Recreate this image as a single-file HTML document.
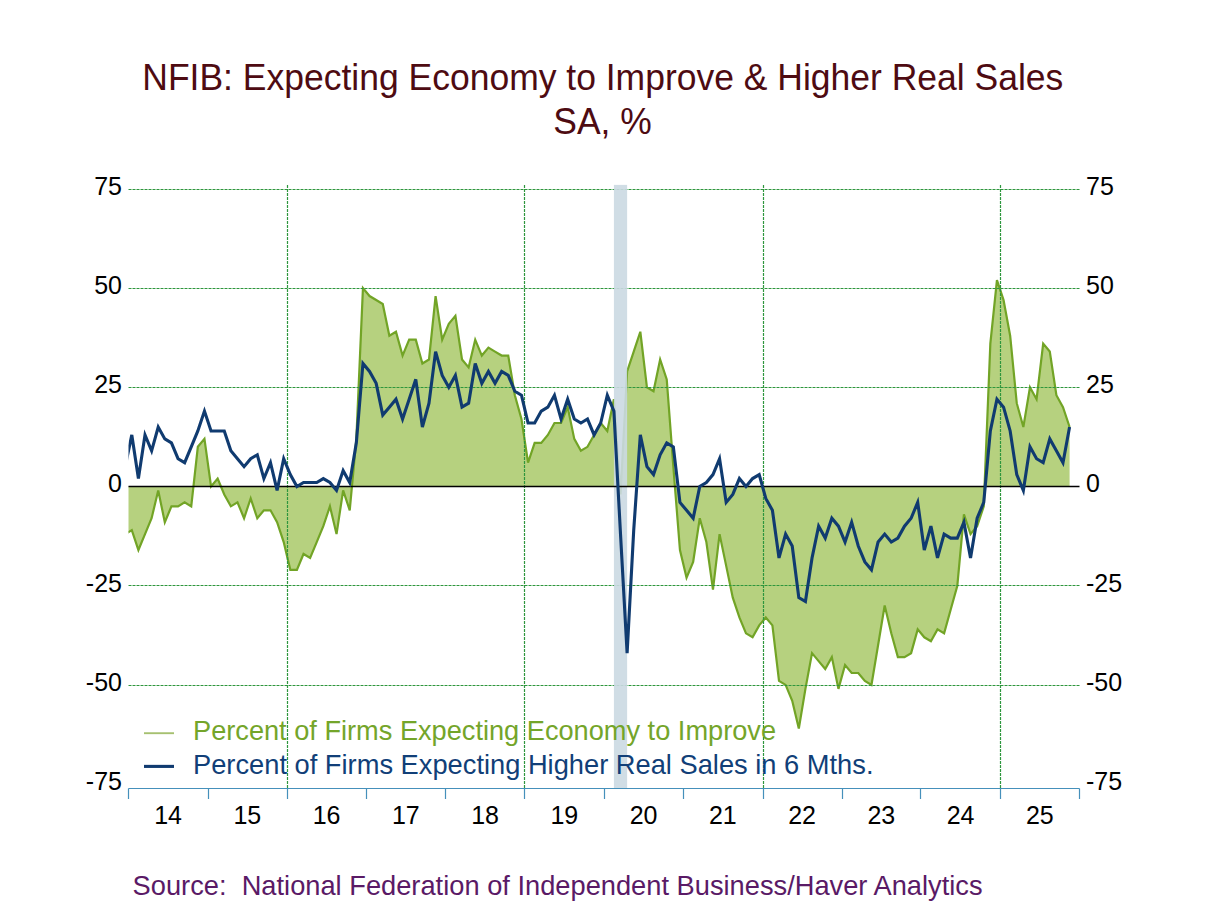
<!DOCTYPE html>
<html><head><meta charset="utf-8"><style>
html,body{margin:0;padding:0;background:#fff;}
svg{display:block;}
text{font-family:"Liberation Sans",sans-serif;}
</style></head><body>
<svg width="1208" height="906" viewBox="0 0 1208 906">
<rect x="0" y="0" width="1208" height="906" fill="#ffffff"/>
<g fill="#4e0b12" font-size="37.5">
<text x="142.3" y="89.7" textLength="921" lengthAdjust="spacingAndGlyphs">NFIB: Expecting Economy to Improve &amp; Higher Real Sales</text>
<text x="553.3" y="133.7" textLength="98.5" lengthAdjust="spacingAndGlyphs">SA, %</text>
</g>
<defs><clipPath id="pc"><rect x="128.5" y="150" width="951.0" height="640"/></clipPath></defs>
<g clip-path="url(#pc)">
<path d="M125.20,534.12 L131.80,530.15 L138.41,549.99 L145.01,534.12 L151.61,518.24 L158.22,490.47 L164.82,522.21 L171.43,506.34 L178.03,506.34 L184.64,502.37 L191.24,506.34 L197.84,446.82 L204.45,438.88 L211.05,486.50 L217.66,478.56 L224.26,494.44 L230.86,506.34 L237.47,502.37 L244.07,518.24 L250.68,498.40 L257.28,518.24 L263.89,510.31 L270.49,510.31 L277.09,522.21 L283.70,542.05 L290.30,569.83 L296.91,569.83 L303.51,553.96 L310.11,557.92 L316.72,542.05 L323.32,526.18 L329.93,506.34 L336.53,534.12 L343.14,490.47 L349.74,510.31 L356.34,438.88 L362.95,288.10 L369.55,296.04 L376.16,300.00 L382.76,303.97 L389.36,335.72 L395.97,331.75 L402.57,355.56 L409.18,339.68 L415.78,339.68 L422.39,363.49 L428.99,359.52 L435.59,296.04 L442.20,339.68 L448.80,323.81 L455.41,315.88 L462.01,359.52 L468.61,367.46 L475.22,339.68 L481.82,355.56 L488.43,347.62 L495.03,351.59 L501.64,355.56 L508.24,355.56 L514.84,395.24 L521.45,419.04 L528.05,462.69 L534.66,442.85 L541.26,442.85 L547.86,434.92 L554.47,423.01 L561.07,423.01 L567.68,407.14 L574.28,438.88 L580.89,450.79 L587.49,446.82 L594.09,434.92 L600.70,423.01 L607.30,430.95 L613.91,399.20 L620.51,494.44 L627.11,371.43 L633.72,351.59 L640.32,331.75 L646.93,387.30 L653.53,391.27 L660.14,359.52 L666.74,379.36 L673.34,466.66 L679.95,549.99 L686.55,577.76 L693.16,561.89 L699.76,518.24 L706.36,542.05 L712.97,589.67 L719.57,534.12 L726.18,565.86 L732.78,597.60 L739.39,617.44 L745.99,633.32 L752.59,637.28 L759.20,625.38 L765.80,617.44 L772.41,625.38 L779.01,680.93 L785.61,684.90 L792.22,700.77 L798.82,728.55 L805.43,688.87 L812.03,653.16 L818.64,661.09 L825.24,669.03 L831.84,657.12 L838.45,688.87 L845.05,665.06 L851.66,673.00 L858.26,673.00 L864.86,680.93 L871.47,684.90 L878.07,645.22 L884.68,605.54 L891.28,633.32 L897.89,657.12 L904.49,657.12 L911.09,653.16 L917.70,629.35 L924.30,637.28 L930.91,641.25 L937.51,629.35 L944.11,633.32 L950.72,609.51 L957.32,585.70 L963.93,514.28 L970.53,534.12 L977.14,526.18 L983.74,506.34 L990.34,343.65 L996.95,280.16 L1003.55,300.00 L1010.16,335.72 L1016.76,403.17 L1023.36,426.98 L1029.97,387.30 L1036.57,399.20 L1043.18,343.65 L1049.78,351.59 L1056.39,395.24 L1062.99,407.14 L1069.59,426.98 L1069.59,486.50 L125.20,486.50 Z" fill="#b6d17f" stroke="none"/>
<path d="M125.20,534.12 L131.80,530.15 L138.41,549.99 L145.01,534.12 L151.61,518.24 L158.22,490.47 L164.82,522.21 L171.43,506.34 L178.03,506.34 L184.64,502.37 L191.24,506.34 L197.84,446.82 L204.45,438.88 L211.05,486.50 L217.66,478.56 L224.26,494.44 L230.86,506.34 L237.47,502.37 L244.07,518.24 L250.68,498.40 L257.28,518.24 L263.89,510.31 L270.49,510.31 L277.09,522.21 L283.70,542.05 L290.30,569.83 L296.91,569.83 L303.51,553.96 L310.11,557.92 L316.72,542.05 L323.32,526.18 L329.93,506.34 L336.53,534.12 L343.14,490.47 L349.74,510.31 L356.34,438.88 L362.95,288.10 L369.55,296.04 L376.16,300.00 L382.76,303.97 L389.36,335.72 L395.97,331.75 L402.57,355.56 L409.18,339.68 L415.78,339.68 L422.39,363.49 L428.99,359.52 L435.59,296.04 L442.20,339.68 L448.80,323.81 L455.41,315.88 L462.01,359.52 L468.61,367.46 L475.22,339.68 L481.82,355.56 L488.43,347.62 L495.03,351.59 L501.64,355.56 L508.24,355.56 L514.84,395.24 L521.45,419.04 L528.05,462.69 L534.66,442.85 L541.26,442.85 L547.86,434.92 L554.47,423.01 L561.07,423.01 L567.68,407.14 L574.28,438.88 L580.89,450.79 L587.49,446.82 L594.09,434.92 L600.70,423.01 L607.30,430.95 L613.91,399.20 L620.51,494.44 L627.11,371.43 L633.72,351.59 L640.32,331.75 L646.93,387.30 L653.53,391.27 L660.14,359.52 L666.74,379.36 L673.34,466.66 L679.95,549.99 L686.55,577.76 L693.16,561.89 L699.76,518.24 L706.36,542.05 L712.97,589.67 L719.57,534.12 L726.18,565.86 L732.78,597.60 L739.39,617.44 L745.99,633.32 L752.59,637.28 L759.20,625.38 L765.80,617.44 L772.41,625.38 L779.01,680.93 L785.61,684.90 L792.22,700.77 L798.82,728.55 L805.43,688.87 L812.03,653.16 L818.64,661.09 L825.24,669.03 L831.84,657.12 L838.45,688.87 L845.05,665.06 L851.66,673.00 L858.26,673.00 L864.86,680.93 L871.47,684.90 L878.07,645.22 L884.68,605.54 L891.28,633.32 L897.89,657.12 L904.49,657.12 L911.09,653.16 L917.70,629.35 L924.30,637.28 L930.91,641.25 L937.51,629.35 L944.11,633.32 L950.72,609.51 L957.32,585.70 L963.93,514.28 L970.53,534.12 L977.14,526.18 L983.74,506.34 L990.34,343.65 L996.95,280.16 L1003.55,300.00 L1010.16,335.72 L1016.76,403.17 L1023.36,426.98 L1029.97,387.30 L1036.57,399.20 L1043.18,343.65 L1049.78,351.59 L1056.39,395.24 L1062.99,407.14 L1069.59,426.98" fill="none" stroke="#72a426" stroke-width="2.2" stroke-linejoin="miter"/>
</g>
<g stroke="#2e963d" stroke-width="1.2" stroke-dasharray="3,1">
<line x1="128.5" y1="189.5" x2="1079.5" y2="189.5"/><line x1="128.5" y1="288.5" x2="1079.5" y2="288.5"/><line x1="128.5" y1="387.5" x2="1079.5" y2="387.5"/><line x1="128.5" y1="585.5" x2="1079.5" y2="585.5"/><line x1="128.5" y1="685.5" x2="1079.5" y2="685.5"/><line x1="287.5" y1="185" x2="287.5" y2="788"/><line x1="524.5" y1="185" x2="524.5" y2="788"/><line x1="763.5" y1="185" x2="763.5" y2="788"/><line x1="1000.5" y1="185" x2="1000.5" y2="788"/>
</g>
<rect x="613.91" y="184.90" width="13.21" height="603.60" fill="#cbd9e2" fill-opacity="0.9"/>
<line x1="128.5" y1="486.5" x2="1079.5" y2="486.5" stroke="#000" stroke-width="1.3"/>
<g clip-path="url(#pc)">
<path d="M125.20,466.66 L131.80,434.92 L138.41,478.56 L145.01,434.92 L151.61,450.79 L158.22,426.98 L164.82,438.88 L171.43,442.85 L178.03,458.72 L184.64,462.69 L191.24,446.82 L197.84,430.95 L204.45,411.11 L211.05,430.95 L217.66,430.95 L224.26,430.95 L230.86,450.79 L237.47,458.72 L244.07,466.66 L250.68,458.72 L257.28,454.76 L263.89,478.56 L270.49,462.69 L277.09,490.47 L283.70,458.72 L290.30,474.60 L296.91,486.50 L303.51,482.53 L310.11,482.53 L316.72,482.53 L323.32,478.56 L329.93,482.53 L336.53,490.47 L343.14,470.63 L349.74,482.53 L356.34,442.85 L362.95,363.49 L369.55,371.43 L376.16,383.33 L382.76,415.08 L389.36,407.14 L395.97,399.20 L402.57,419.04 L409.18,399.20 L415.78,379.36 L422.39,426.98 L428.99,403.17 L435.59,351.59 L442.20,375.40 L448.80,387.30 L455.41,375.40 L462.01,407.14 L468.61,403.17 L475.22,363.49 L481.82,383.33 L488.43,371.43 L495.03,383.33 L501.64,371.43 L508.24,375.40 L514.84,391.27 L521.45,395.24 L528.05,423.01 L534.66,423.01 L541.26,411.11 L547.86,407.14 L554.47,395.24 L561.07,419.04 L567.68,399.20 L574.28,419.04 L580.89,423.01 L587.49,419.04 L594.09,434.92 L600.70,423.01 L607.30,395.24 L613.91,411.11 L620.51,534.12 L627.11,653.16 L633.72,530.15 L640.32,434.92 L646.93,466.66 L653.53,474.60 L660.14,454.76 L666.74,442.85 L673.34,446.82 L679.95,502.37 L686.55,510.31 L693.16,518.24 L699.76,486.50 L706.36,482.53 L712.97,474.60 L719.57,458.72 L726.18,502.37 L732.78,494.44 L739.39,478.56 L745.99,486.50 L752.59,478.56 L759.20,474.60 L765.80,498.40 L772.41,510.31 L779.01,557.92 L785.61,534.12 L792.22,546.02 L798.82,597.60 L805.43,601.57 L812.03,557.92 L818.64,526.18 L825.24,538.08 L831.84,518.24 L838.45,526.18 L845.05,542.05 L851.66,522.21 L858.26,546.02 L864.86,561.89 L871.47,569.83 L878.07,542.05 L884.68,534.12 L891.28,542.05 L897.89,538.08 L904.49,526.18 L911.09,518.24 L917.70,502.37 L924.30,549.99 L930.91,526.18 L937.51,557.92 L944.11,534.12 L950.72,538.08 L957.32,538.08 L963.93,522.21 L970.53,557.92 L977.14,518.24 L983.74,502.37 L990.34,430.95 L996.95,399.20 L1003.55,407.14 L1010.16,430.95 L1016.76,474.60 L1023.36,490.47 L1029.97,446.82 L1036.57,458.72 L1043.18,462.69 L1049.78,438.88 L1056.39,450.79 L1062.99,462.69 L1069.59,426.98" fill="none" stroke="#103b70" stroke-width="3.1" stroke-linejoin="miter"/>
</g>
<g stroke="#4590bb" stroke-width="1.2">
<line x1="128.5" y1="788.5" x2="1079.5" y2="788.5"/>
<line x1="128.5" y1="788.5" x2="128.5" y2="799"/><line x1="208.5" y1="788.5" x2="208.5" y2="799"/><line x1="287.5" y1="788.5" x2="287.5" y2="799"/><line x1="366.5" y1="788.5" x2="366.5" y2="799"/><line x1="445.5" y1="788.5" x2="445.5" y2="799"/><line x1="524.5" y1="788.5" x2="524.5" y2="799"/><line x1="604.5" y1="788.5" x2="604.5" y2="799"/><line x1="683.5" y1="788.5" x2="683.5" y2="799"/><line x1="763.5" y1="788.5" x2="763.5" y2="799"/><line x1="842.5" y1="788.5" x2="842.5" y2="799"/><line x1="920.5" y1="788.5" x2="920.5" y2="799"/><line x1="1000.5" y1="788.5" x2="1000.5" y2="799"/><line x1="1079.5" y1="788.5" x2="1079.5" y2="799"/>
</g>
<g fill="#000" font-size="25">
<text x="122" y="194.8" text-anchor="end">75</text><text x="1086" y="194.8">75</text><text x="122" y="294.0" text-anchor="end">50</text><text x="1086" y="294.0">50</text><text x="122" y="393.2" text-anchor="end">25</text><text x="1086" y="393.2">25</text><text x="122" y="492.4" text-anchor="end">0</text><text x="1086" y="492.4">0</text><text x="122" y="591.6" text-anchor="end">-25</text><text x="1086" y="591.6">-25</text><text x="122" y="690.8" text-anchor="end">-50</text><text x="1086" y="690.8">-50</text><text x="122" y="790.0" text-anchor="end">-75</text><text x="1086" y="790.0">-75</text>
<text x="168.12" y="824" text-anchor="middle">14</text><text x="247.38" y="824" text-anchor="middle">15</text><text x="326.62" y="824" text-anchor="middle">16</text><text x="405.88" y="824" text-anchor="middle">17</text><text x="485.12" y="824" text-anchor="middle">18</text><text x="564.38" y="824" text-anchor="middle">19</text><text x="643.62" y="824" text-anchor="middle">20</text><text x="722.88" y="824" text-anchor="middle">21</text><text x="802.12" y="824" text-anchor="middle">22</text><text x="881.38" y="824" text-anchor="middle">23</text><text x="960.62" y="824" text-anchor="middle">24</text><text x="1039.88" y="824" text-anchor="middle">25</text>
</g>
<line x1="144" y1="733.2" x2="174" y2="733.2" stroke="#a6c070" stroke-width="1.9"/>
<line x1="144" y1="766.4" x2="174" y2="766.4" stroke="#103b70" stroke-width="3.1"/>
<g font-size="27.2">
<text x="193" y="740.2" fill="#74a52a" textLength="583" lengthAdjust="spacingAndGlyphs">Percent of Firms Expecting Economy to Improve</text>
<text x="193" y="774.2" fill="#113f78" textLength="680.5" lengthAdjust="spacingAndGlyphs">Percent of Firms Expecting Higher Real Sales in 6 Mths.</text>
</g>
<text x="132.6" y="895.2" fill="#5a1a66" font-size="27.3" style="white-space:pre" textLength="850" lengthAdjust="spacingAndGlyphs">Source:  National Federation of Independent Business/Haver Analytics</text>
</svg>
</body></html>
